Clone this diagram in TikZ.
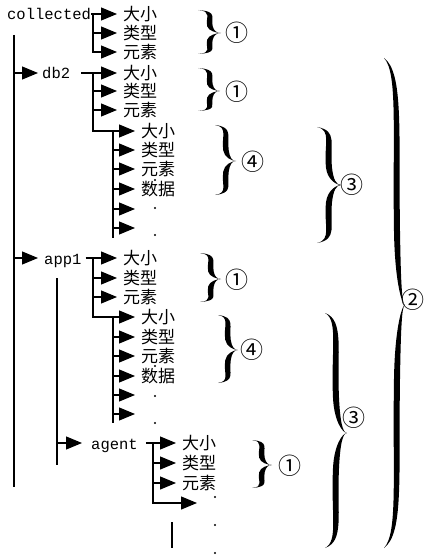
\documentclass[tikz,border=0pt]{standalone}
\usepackage{fontspec}
\setmonofont{Liberation Mono}
\newfontfamily\cjk{Noto Sans CJK SC}
\usetikzlibrary{arrows.meta}
\newcommand\mybrace[7]{%
  \pgfmathsetmacro\brH{#3-#2}%
  \pgfmathsetmacro\brD{#5-#4}%
  \pgfmathsetmacro\brA{#4+#7/2}%
  \pgfmathsetmacro\brB{#4-#7/2}%
  \fill (#1,#2)
    .. controls ({\brA+0.5*\brD},{#2+0.03*\brH}) and ({\brA-0.2*\brD},{#6-0.35*\brH}) .. ({\brA},{#6-0.15*\brH})
    .. controls ({\brA+0.1*\brD},{#6-0.05*\brH}) and ({#5-0.4*\brD},{#6}) .. (#5,#6)
    .. controls ({#5-0.4*\brD},{#6}) and ({\brA+0.1*\brD},{#6+0.05*\brH}) .. ({\brA},{#6+0.15*\brH})
    .. controls ({\brA-0.2*\brD},{#6+0.35*\brH}) and ({\brA+0.5*\brD},{#3-0.03*\brH}) .. (#1,#3)
    .. controls ({\brB+0.5*\brD},{#3-0.03*\brH}) and ({\brB-0.2*\brD},{#6+0.35*\brH}) .. ({\brB},{#6+0.15*\brH})
    .. controls ({\brB+0.1*\brD},{#6+0.05*\brH}) and ({#5-0.4*\brD},{#6}) .. (#5,#6)
    .. controls ({#5-0.4*\brD},{#6}) and ({\brB+0.1*\brD},{#6-0.05*\brH}) .. ({\brB},{#6-0.15*\brH})
    .. controls ({\brB-0.2*\brD},{#6-0.35*\brH}) and ({\brB+0.5*\brD},{#2+0.03*\brH}) .. (#1,#2) -- cycle;
}
\begin{document}
\begin{tikzpicture}[x=1pt,y=-1pt,
  ln/.style={line width=1.2pt},
  br/.style={line width=1.2pt,-{Triangle[length=16pt,width=13pt]},shorten >=6pt},
  itm/.style={font=\cjk\fontsize{17}{17}\selectfont, inner sep=0pt, anchor=west, text height=13pt, text depth=0pt},
  mono/.style={font=\ttfamily\fontsize{15.5}{15.5}\selectfont, inner sep=0pt, anchor=west, text height=12pt, text depth=0pt},
  num/.style={font=\cjk\fontsize{23}{23}\selectfont, inner sep=0pt},
  dot/.style={circle, fill, inner sep=0pt, minimum size=2.4pt}]
\fill[white] (0,0) rectangle (425,556);
\useasboundingbox (0,0) rectangle (425,556);

% collected
\node[mono] (col) at (7,14) {collected};
\coordinate (cj) at (93,14);
\node[itm] (c1) at (123,14) {大小};
\node[itm] (c2) at (123,33) {类型};
\node[itm] (c3) at (123,52) {元素};
\draw[ln] (col.east) -- (cj);
\draw[br] (cj) -- (c1);
\draw[br] (cj |- c2) -- (c2);
\draw[br] (cj) |- (c3);

% main vertical
\coordinate (mt) at (14,35);
\coordinate (mb) at (14,487);
\draw[ln] (mt) -- (mb);

% db2
\node[mono] (db2) at (42,73) {db2};
\draw[br, shorten >=4pt] (mt |- db2) -- (db2);
\coordinate (dj) at (93,73);
\draw[ln, shorten <=11pt] (db2) -- (dj);
\node[itm] (d1) at (123,73) {大小};
\node[itm] (d2) at (123,91) {类型};
\node[itm] (d3) at (123,110) {元素};
\draw[br] (dj) -- (d1);
\draw[br] (dj |- d2) -- (d2);
\draw[br] (dj |- d3) -- (d3);
\node[itm] (e1) at (141,131) {大小};
\node[itm] (e2) at (141,150) {类型};
\node[itm] (e3) at (141,169) {元素};
\node[itm] (e4) at (141,189) {数据};
\coordinate (e5) at (141,209);
\coordinate (e6) at (141,228);
\draw[br] (dj) |- (e1);
\coordinate (ej) at (113,131);
\coordinate (ee) at (113,238);
\draw[ln] (ej) -- (ee);
\draw[br] (ej |- e2) -- (e2);
\draw[br] (ej |- e3) -- (e3);
\draw[br] (ej |- e4) -- (e4);
\draw[br] (ej |- e5) -- (e5);
\draw[br] (ej |- e6) -- (e6);
\node[dot] (p1) at (155,180) {};
\node[dot] (p2) at (155,208) {};
\node[dot] (p3) at (155,235) {};

% app1
\node[mono] (app) at (44,258) {app1};
\draw[br] (mt |- app) -- (app);
\coordinate (aj) at (93,258);
\draw[ln, shorten <=4pt] (app) -- (aj);
\node[itm] (a1) at (123,258) {大小};
\node[itm] (a2) at (123,278) {类型};
\node[itm] (a3) at (123,297) {元素};
\draw[br] (aj) -- (a1);
\draw[br] (aj |- a2) -- (a2);
\draw[br] (aj |- a3) -- (a3);
\node[itm] (f1) at (141,317) {大小};
\node[itm] (f2) at (141,337) {类型};
\node[itm] (f3) at (141,356) {元素};
\node[itm] (f4) at (141,376) {数据};
\coordinate (f5) at (141,395);
\coordinate (f6) at (141,414);
\draw[br] (aj) |- (f1);
\coordinate (fj) at (113,317);
\coordinate (fe) at (113,423);
\draw[ln] (fj) -- (fe);
\draw[br] (fj |- f2) -- (f2);
\draw[br] (fj |- f3) -- (f3);
\draw[br] (fj |- f4) -- (f4);
\draw[br] (fj |- f5) -- (f5);
\draw[br] (fj |- f6) -- (f6);
\node[dot] (q1) at (155,366) {};
\node[dot] (q2) at (155,396) {};
\node[dot] (q3) at (155,423) {};

% agent
\coordinate (st) at (57,278);
\coordinate (sb) at (57,465);
\draw[ln] (st) -- (sb);
\node[mono] (ag) at (91,443) {agent};
\draw[br, shorten >=9pt] (st |- ag) -- (ag);
\coordinate (gj) at (153,443);
\draw[ln, shorten <=8pt] (ag) -- (gj);
\node[itm] (g1) at (182,443) {大小};
\node[itm] (g2) at (182,463) {类型};
\node[itm] (g3) at (182,483) {元素};
\coordinate (g4) at (203,503);
\draw[br] (gj) -- (g1);
\draw[br] (gj |- g2) -- (g2);
\draw[br] (gj |- g3) -- (g3);
\draw[br] (gj) |- (g4);
\node[dot] (s1) at (215,497) {};
\node[dot] (s2) at (215,525) {};
\node[dot] (s3) at (215,553) {};
\coordinate (vt) at (172,522);
\coordinate (vb) at (172,548);
\draw[ln] (vt) -- (vb);

% braces
\mybrace{198}{10}{54}{210}{221}{33}{5.5}
\node[num] (n1) at (237,33) {①};
\mybrace{198}{68}{111}{210}{220}{91}{5.5}
\node[num] (n2) at (237,92) {①};
\mybrace{215}{125}{195}{226}{236}{161}{5.5}
\node[num] (n3) at (253,162) {④};
\mybrace{200}{253}{302}{211}{221}{279}{5.5}
\node[num] (n4) at (237,280) {①};
\mybrace{218}{315}{383}{228}{238}{350}{5.5}
\node[num] (n5) at (252,350) {④};
\mybrace{252}{440}{488}{262}{272}{465}{5.5}
\node[num] (n6) at (290,466) {①};
\mybrace{317}{127}{243}{329}{341}{185}{6}
\node[num] (n7) at (352,185) {③};
\mybrace{325}{313}{548}{336}{347}{433}{6}
\node[num] (n8) at (354,418) {③};
\mybrace{384}{58}{548}{397}{405}{305}{6}
\node[num] (n9) at (413,300) {②};
\end{tikzpicture}
\end{document}
